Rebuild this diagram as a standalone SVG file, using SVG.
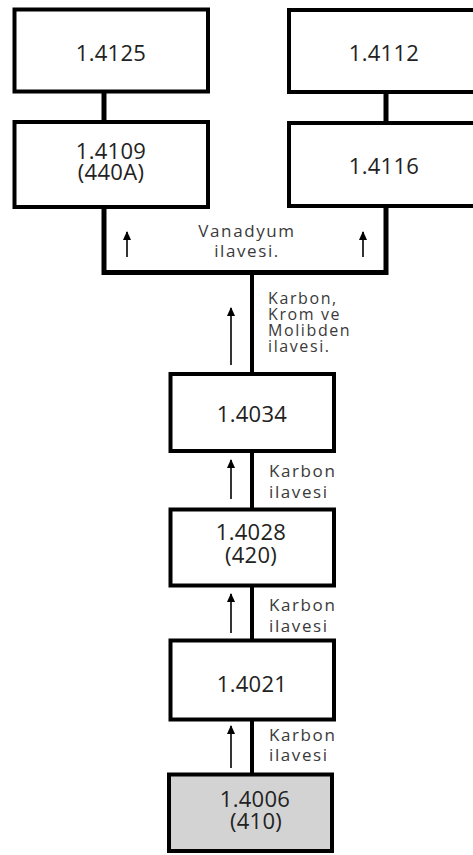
<svg xmlns="http://www.w3.org/2000/svg" width="473" height="855" viewBox="0 0 473 855">
  <defs>
    <marker id="ah" markerWidth="9" markerHeight="8" refX="8" refY="4" orient="auto" markerUnits="userSpaceOnUse" viewBox="0 0 9 8">
      <path d="M0,0 L9,4 L0,8 Z" fill="#000"/>
    </marker>
  </defs>
  <style>
    .box { fill: #fff; stroke: #000; stroke-width: 4; }
    .base { fill: #d3d3d3; stroke: #000; stroke-width: 4; }
    .t { font-family: "Open Sans", "Noto Sans", sans-serif; font-size: 22px; fill: #222; text-anchor: middle; letter-spacing: 0.3px; }
    .lbl { font-family: "Open Sans", "Noto Sans", sans-serif; font-size: 17px; fill: #3a3a3a; letter-spacing: 1.6px; }
    .lbl4 { font-family: "Open Sans", "Noto Sans", sans-serif; font-size: 16px; fill: #3a3a3a; letter-spacing: 1.6px; }
    .link { stroke: #000; stroke-width: 5; fill: none; }
    .trunk { stroke: #000; stroke-width: 4; fill: none; }
    .arr { stroke: #000; stroke-width: 1.6; fill: none; }
  </style>

  <g id="connectors">
    <line class="link" x1="104" y1="92" x2="104" y2="122"/>
    <line class="link" x1="386" y1="92" x2="386" y2="123"/>
    <path class="link" d="M104,207 V272.5 H386 V206"/>
    <line class="trunk" x1="252" y1="272" x2="252" y2="374"/>
    <line class="trunk" x1="252" y1="451" x2="252" y2="509.5"/>
    <line class="trunk" x1="252" y1="585.5" x2="252" y2="640.5"/>
    <line class="trunk" x1="252" y1="719.5" x2="252" y2="774.5"/>
    <line class="arr" x1="127" y1="257" x2="127" y2="232" marker-end="url(#ah)"/>
    <line class="arr" x1="363" y1="257" x2="363" y2="232" marker-end="url(#ah)"/>
    <line class="arr" x1="231" y1="365" x2="231" y2="308" marker-end="url(#ah)"/>
    <line class="arr" x1="231" y1="499" x2="231" y2="460" marker-end="url(#ah)"/>
    <line class="arr" x1="231" y1="633" x2="231" y2="594" marker-end="url(#ah)"/>
    <line class="arr" x1="231" y1="768" x2="231" y2="726" marker-end="url(#ah)"/>
    <text class="lbl" x="247" y="237" text-anchor="middle">Vanadyum</text>
    <text class="lbl" x="247" y="257" text-anchor="middle">ilavesi.</text>
    <text class="lbl4" x="268" y="304">Karbon,</text>
    <text class="lbl4" x="268" y="320">Krom ve</text>
    <text class="lbl4" x="268" y="336">Molibden</text>
    <text class="lbl4" x="268" y="352">ilavesi.</text>
    <text class="lbl" x="269" y="477">Karbon</text>
    <text class="lbl" x="269" y="498">ilavesi</text>
    <text class="lbl" x="269" y="611">Karbon</text>
    <text class="lbl" x="269" y="632">ilavesi</text>
    <text class="lbl" x="269" y="741">Karbon</text>
    <text class="lbl" x="269" y="761">ilavesi</text>
  </g>

  <g id="n1_4125">
    <rect class="box" x="14.5" y="9.5" width="193.5" height="82"/>
    <text class="t" x="111" y="61">1.4125</text>
  </g>
  <g id="n1_4109">
    <rect class="box" x="14.5" y="122" width="193.5" height="85"/>
    <text class="t" x="111" y="159">1.4109</text>
    <text class="t" x="111" y="180">(440A)</text>
  </g>
  <g id="n1_4112">
    <rect class="box" x="289" y="10" width="193.5" height="82"/>
    <text class="t" x="384" y="61">1.4112</text>
  </g>
  <g id="n1_4116">
    <rect class="box" x="289" y="123" width="193.5" height="83"/>
    <text class="t" x="384" y="174">1.4116</text>
  </g>
  <g id="n1_4034">
    <rect class="box" x="170.5" y="374" width="163.5" height="77"/>
    <text class="t" x="252" y="421.5">1.4034</text>
  </g>
  <g id="n1_4028">
    <rect class="box" x="170.5" y="509.5" width="163.5" height="76"/>
    <text class="t" x="251" y="540">1.4028</text>
    <text class="t" x="251" y="563">(420)</text>
  </g>
  <g id="n1_4021">
    <rect class="box" x="170.5" y="640.5" width="163.5" height="79"/>
    <text class="t" x="252" y="691.5">1.4021</text>
  </g>
  <g id="n1_4006">
    <rect class="base" x="169" y="774.5" width="163" height="76.5"/>
    <text class="t" x="255" y="806.5">1.4006</text>
    <text class="t" x="256" y="829">(410)</text>
  </g>
</svg>
